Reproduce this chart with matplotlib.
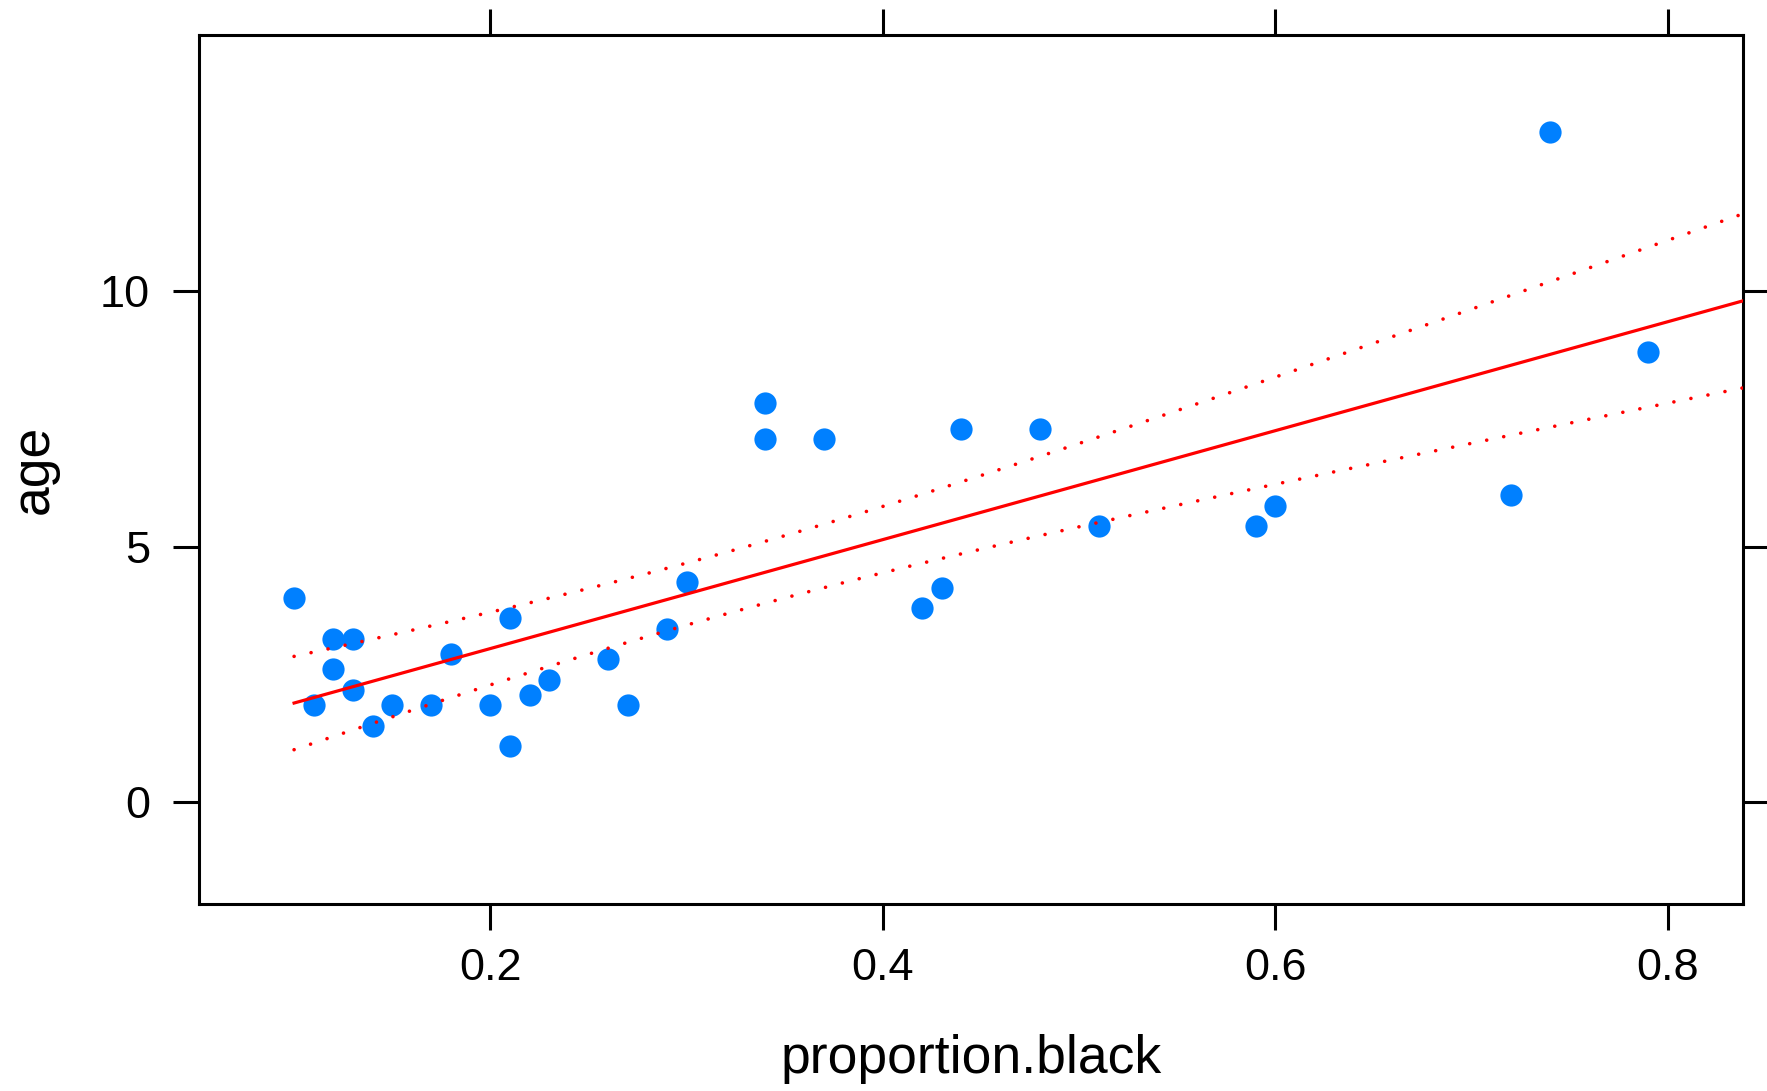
import numpy as np
import matplotlib
matplotlib.use("Agg")
import matplotlib.pyplot as plt

plt.rcParams['font.family'] = ['Liberation Sans', 'DejaVu Sans']

# data
proportion_black = [0.10, 0.11, 0.12, 0.12, 0.13, 0.13, 0.14, 0.15, 0.17, 0.18,
                    0.20, 0.21, 0.21, 0.22, 0.23, 0.26, 0.27, 0.29, 0.30, 0.34,
                    0.34, 0.37, 0.42, 0.43, 0.44, 0.48, 0.51, 0.59, 0.60, 0.72,
                    0.74, 0.79]
age = [4.0, 1.9, 3.2, 2.6, 3.2, 2.2, 1.5, 1.9, 1.9, 2.9,
       1.9, 3.6, 1.1, 2.1, 2.4, 2.8, 1.9, 3.4, 4.3, 7.8,
       7.1, 7.1, 3.8, 4.2, 7.3, 7.3, 5.4, 5.4, 5.8, 6.0,
       13.1, 8.8]
xticks = [0.2, 0.4, 0.6, 0.8]
yticks = [0, 5, 10]
xlim = (0.0518, 0.8382)
ylim = (-1.98, 15.0)

x = np.array(proportion_black)
y = np.array(age)

# least squares fit with 95% confidence band for the mean
n = len(x)
b, a = np.polyfit(x, y, 1)
resid = y - (a + b * x)
s = np.sqrt(np.sum(resid ** 2) / (n - 2))
sxx = np.sum((x - x.mean()) ** 2)
t = 2.042  # t(0.975, 30)
xs = np.linspace(x.min(), xlim[1], 200)
fit = a + b * xs
se = s * np.sqrt(1.0 / n + (xs - x.mean()) ** 2 / sxx)

fig = plt.figure(figsize=(17.67, 10.91), dpi=100)
ax = fig.add_axes([0.1129, 0.1716, 0.8734, 0.7963])

ax.plot(x, y, 'o', color='#0080FF', markersize=16, markeredgewidth=0, zorder=2)
ax.plot(xs, fit, '-', color='#FF0000', linewidth=2.3, zorder=3)
for band in (fit + t * se, fit - t * se):
    ax.plot(xs, band, color='#FF0000', linewidth=2.6, dashes=(0.01, 4.8),
            dash_capstyle='round', zorder=3)

ax.set_xlim(*xlim)
ax.set_ylim(*ylim)
ax.set_xticks(xticks)
ax.set_xticklabels(['0.2', '0.4', '0.6', '0.8'])
ax.set_yticks(yticks)
ax.set_yticklabels(['0', '5', '10'])

for sp in ax.spines.values():
    sp.set_linewidth(2.2)
ax.tick_params(axis='both', which='both', direction='out', length=18.7, width=2.2,
               labelsize=32.5, top=True, right=True, labeltop=False, labelright=False)
ax.tick_params(axis='x', pad=13)
ax.tick_params(axis='y', pad=17)

ax.set_xlabel('proportion.black', fontsize=38.5)
ax.set_ylabel('age', fontsize=38.5)
ax.xaxis.label.set_verticalalignment('center')
ax.yaxis.label.set_verticalalignment('center')
ax.xaxis.set_label_coords(0.5, -0.1786)
ax.yaxis.set_label_coords(-0.1072, 0.5)

fig.savefig('out.png', dpi=100)
